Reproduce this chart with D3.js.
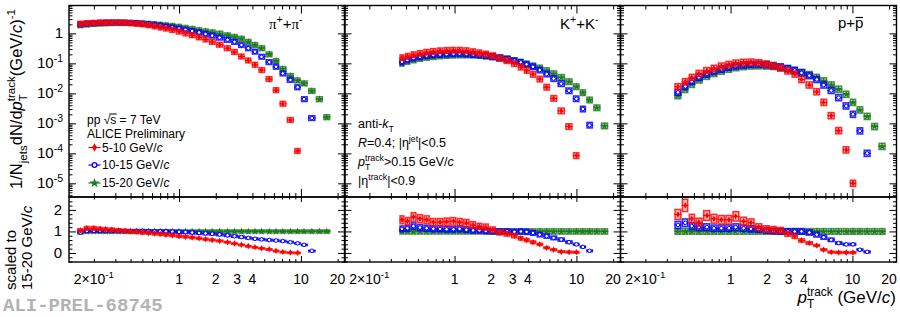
<!DOCTYPE html>
<html><head><meta charset="utf-8">
<script src="https://cdn.jsdelivr.net/npm/d3@7"></script>
<style>
body{margin:0;background:#fff;}
svg{display:block;font-family:"Liberation Sans",Arial,sans-serif;}
</style></head><body>
<svg id="c" width="900" height="317"></svg>
<script>
// ---------------- DATA ----------------
const SERIES = ["5-10 GeV/c", "10-15 GeV/c", "15-20 GeV/c"];
const X_TICK_LABELS = [0.2, 1, 2, 3, 4, 10, 20];
const Y_TOP_LABELS = [1, 1e-1, 1e-2, 1e-3, 1e-4, 1e-5];
const Y_BOT_LABELS = [0, 1, 2];

// pions
const PI_PT = [0.155, 0.175, 0.2, 0.225, 0.25, 0.28, 0.32, 0.36, 0.4, 0.45, 0.5, 0.56, 0.63, 0.7, 0.78, 0.88, 1.0, 1.13, 1.28, 1.46, 1.65, 1.87, 2.15, 2.5, 2.85, 3.25, 3.7, 4.2, 4.75, 5.5, 6.25, 7.1, 8.2, 9.4, 10.6, 12.3, 14.2, 16.3];
const PI_5_10 = [2.1, 2.2, 2.25, 2.3, 2.32, 2.32, 2.3, 2.27, 2.2, 2.1, 2.0, 1.88, 1.72, 1.58, 1.45, 1.3, 1.15, 1.0, 0.87, 0.74, 0.63, 0.52, 0.42, 0.32, 0.24, 0.17, 0.125, 0.09, 0.06, 0.03, 0.0128, 0.0045, 0.0013, 0.00012, null, null, null, null];
const PI_10_15 = [2.0, 2.1, 2.18, 2.24, 2.28, 2.3, 2.3, 2.28, 2.25, 2.2, 2.12, 2.03, 1.93, 1.82, 1.7, 1.58, 1.45, 1.32, 1.2, 1.08, 0.95, 0.84, 0.72, 0.61, 0.52, 0.41, 0.32, 0.245, 0.166, 0.11, 0.077, 0.046, 0.028, 0.016, 0.0064, 0.0015, null, null];
const PI_15_20 = [1.88, 1.98, 2.06, 2.12, 2.16, 2.2, 2.22, 2.22, 2.2, 2.17, 2.12, 2.07, 2.0, 1.93, 1.85, 1.76, 1.65, 1.52, 1.4, 1.27, 1.17, 1.08, 0.98, 0.86, 0.76, 0.66, 0.52, 0.41, 0.32, 0.2, 0.12, 0.065, 0.038, 0.027, 0.0215, 0.012, 0.0064, 0.0016];
const PI_R_5_10 = [1.05, 1.15, 1.15, 1.12, 1.1, 1.08, 1.05, 1.02, 1.0, 0.98, 0.95, 0.93, 0.9, 0.88, 0.85, 0.82, 0.78, 0.75, 0.72, 0.68, 0.64, 0.6, 0.56, 0.5, 0.44, 0.38, 0.32, 0.27, 0.22, 0.17, 0.1, 0.05, 0.02, 0.01, null, null, null, null];
const PI_R_10_15 = [0.95, 1.02, 1.03, 1.03, 1.02, 1.02, 1.02, 1.02, 1.02, 1.02, 1.02, 1.01, 1.0, 1.0, 1.0, 0.99, 0.98, 0.97, 0.95, 0.93, 0.91, 0.89, 0.86, 0.82, 0.78, 0.74, 0.7, 0.66, 0.63, 0.6, 0.58, 0.55, 0.5, 0.45, 0.38, 0.1, null, null];
const PI_R_15_20 = [1, 1, 1, 1, 1, 1, 1, 1, 1, 1, 1, 1, 1, 1, 1, 1, 1, 1, 1, 1, 1, 1, 1, 1, 1, 1, 1, 1, 1, 1, 1, 1, 1, 1, 1, 1, 1, 1];

// kaons
const K_PT = [0.37, 0.41, 0.46, 0.52, 0.59, 0.67, 0.76, 0.86, 0.98, 1.1, 1.25, 1.42, 1.6, 1.8, 2.05, 2.35, 2.7, 3.1, 3.5, 3.9, 4.4, 5.0, 5.7, 6.5, 7.5, 8.7, 10.0, 11.3, 12.8, 14.7, 17.0];
const K_5_10 = [0.155, 0.172, 0.195, 0.215, 0.235, 0.25, 0.262, 0.27, 0.275, 0.275, 0.265, 0.245, 0.225, 0.205, 0.18, 0.148, 0.123, 0.098, 0.075, 0.058, 0.043, 0.03, 0.016, 0.0068, 0.0026, 0.00078, 0.000084, null, null, null, null];
const K_10_15 = [0.112, 0.13, 0.15, 0.165, 0.18, 0.19, 0.198, 0.203, 0.207, 0.21, 0.205, 0.198, 0.19, 0.18, 0.167, 0.153, 0.14, 0.122, 0.108, 0.093, 0.077, 0.06, 0.044, 0.031, 0.021, 0.0122, 0.0066, 0.003, 0.00087, null, null];
const K_15_20 = [0.1, 0.115, 0.13, 0.145, 0.158, 0.168, 0.177, 0.183, 0.188, 0.19, 0.19, 0.188, 0.183, 0.175, 0.165, 0.152, 0.138, 0.123, 0.108, 0.095, 0.082, 0.07, 0.057, 0.045, 0.034, 0.0244, 0.0166, 0.0105, 0.006, 0.0033, 0.00082];
const K_R_5_10 = [1.54, 1.47, 1.67, 1.59, 1.54, 1.43, 1.43, 1.45, 1.47, 1.43, 1.39, 1.3, 1.23, 1.2, 1.08, 0.95, 0.89, 0.8, 0.68, 0.6, 0.5, 0.4, 0.24, 0.15, 0.06, 0.04, 0.03, null, null, null, null];
const K_R_10_15 = [1.12, 1.15, 1.25, 1.18, 1.15, 1.12, 1.12, 1.1, 1.1, 1.12, 1.08, 1.05, 1.05, 1.02, 1.0, 1.0, 1.0, 0.98, 1.0, 0.98, 0.93, 0.85, 0.78, 0.7, 0.62, 0.5, 0.4, 0.28, 0.1, null, null];
const K_R_15_20 = [1, 1, 1, 1, 1, 1, 1, 1, 1, 1, 1, 1, 1, 1, 1, 1, 1, 1, 1, 1, 1, 1, 1, 1, 1, 1, 1, 1, 1, 1, 1];

// protons
const PR_PT = [0.37, 0.425, 0.48, 0.55, 0.64, 0.73, 0.84, 0.97, 1.1, 1.28, 1.47, 1.7, 1.97, 2.25, 2.56, 2.96, 3.36, 3.82, 4.43, 5.1, 5.8, 6.7, 7.7, 8.9, 10.1, 11.5, 13.2, 15.2, 17.5];
const PR_5_10 = [0.0166, 0.0245, 0.034, 0.046, 0.057, 0.068, 0.081, 0.092, 0.102, 0.108, 0.11, 0.105, 0.095, 0.083, 0.07, 0.056, 0.044, 0.029, 0.019, 0.0113, 0.005, 0.0018, 0.00057, 0.00013, 0.00001, null, null, null, null];
const PR_10_15 = [0.0108, 0.017, 0.025, 0.034, 0.044, 0.054, 0.064, 0.074, 0.082, 0.088, 0.092, 0.093, 0.09, 0.084, 0.076, 0.067, 0.058, 0.048, 0.039, 0.029, 0.019, 0.0125, 0.0072, 0.0038, 0.002, 0.00056, 0.0001, null, null];
const PR_15_20 = [0.0084, 0.0135, 0.02, 0.028, 0.037, 0.046, 0.055, 0.064, 0.072, 0.078, 0.082, 0.083, 0.082, 0.079, 0.073, 0.066, 0.058, 0.05, 0.042, 0.034, 0.026, 0.019, 0.0137, 0.0093, 0.005, 0.0028, 0.0017, 0.00078, 0.00017];
const PR_R_5_10 = [1.79, 2.21, 1.59, 1.43, 1.74, 1.59, 1.54, 1.54, 1.7, 1.47, 1.4, 1.2, 1.12, 1.09, 1.05, 0.89, 0.78, 0.58, 0.46, 0.35, 0.15, 0.04, 0.02, 0.02, 0.02, null, null, null, null];
const PR_R_10_15 = [1.3, 1.4, 1.25, 1.2, 1.2, 1.15, 1.15, 1.15, 1.2, 1.15, 1.12, 1.1, 1.05, 1.02, 1.0, 1.0, 1.0, 1.0, 0.95, 0.85, 0.73, 0.61, 0.46, 0.4, 0.4, 0.15, 0.05, null, null];
const PR_R_15_20 = [1, 1, 1, 1, 1, 1, 1, 1, 1, 1, 1, 1, 1, 1, 1, 1, 1, 1, 1, 1, 1, 1, 1, 1, 1, 1, 1, 1, 1];

// ---------------- LAYOUT / STYLE ----------------
const COLORS = ["#ff0000", "#0000ff", "#1d7a1d"];
const PANEL_LEFT = [69, 344.5, 620.5], PW = 276;
const YT0 = 5.5, YT1 = 197, YB1 = 262;
const X_DOMAIN = [0.125, 23], YTOP_DOMAIN = [3.5e-6, 8.5], YBOT_DOMAIN = [-0.42, 2.6];
const PANELS = [
  {pt: PI_PT, top: [PI_5_10, PI_10_15, PI_15_20], rat: [PI_R_5_10, PI_R_10_15, PI_R_15_20], sysT: 0.2, sysR: 0.07},
  {pt: K_PT, top: [K_5_10, K_10_15, K_15_20], rat: [K_R_5_10, K_R_10_15, K_R_15_20], sysT: 0.24, sysR: 0.12},
  {pt: PR_PT, top: [PR_5_10, PR_10_15, PR_15_20], rat: [PR_R_5_10, PR_R_10_15, PR_R_15_20], sysT: 0.27, sysR: 0.13}
];

const svg = d3.select("#c");
const yTop = d3.scaleLog().domain(YTOP_DOMAIN).range([YT1, YT0]);
const yBot = d3.scaleLinear().domain(YBOT_DOMAIN).range([YB1, YT1]);

function logTicks(lo, hi) {
  const maj = [], min = [];
  for (let e = Math.floor(Math.log10(lo)); e <= Math.ceil(Math.log10(hi)); e++)
    for (let k = 1; k <= 9; k++) {
      const v = +(k * Math.pow(10, e)).toPrecision(6);
      if (v < lo || v > hi) continue;
      (k === 1 ? maj : min).push(v);
    }
  return {maj, min};
}
function tickAxis(axisFn, scale, values, size, transform) {
  svg.append("g").attr("transform", transform)
    .call(axisFn(scale).tickValues(values).tickSize(size).tickFormat(() => ""))
    .call(s => { s.select(".domain").remove(); s.selectAll("text").remove();
      s.selectAll("line").attr("stroke", "#000").attr("stroke-width", 1); });
}
function rich(sel, parts, base) {
  let shift = 0, prev = null;
  parts.forEach(p => {
    const ts = sel.append("tspan").text(p.t);
    let target = 0, fs = base;
    if (p.sub) { target = base * 0.32; fs = base * 0.7; }
    if (p.sup) { target = -base * 0.42; fs = base * 0.7; }
    ts.attr("font-size", fs).attr("dy", target - shift);
    shift = target;
    if (p.it) ts.attr("font-style", "italic");
    if (p.ff) ts.attr("font-family", p.ff);
    if (p.back && prev) ts.attr("dx", -prev.node().getComputedTextLength());
    prev = ts;
  });
  return sel;
}
const MARK = [
  g => g.append("path").attr("d", d3.symbol().type(d3.symbolDiamond).size(12)).attr("fill", COLORS[0]),
  g => g.append("circle").attr("r", 1.8).attr("fill", "#fff").attr("stroke", COLORS[1]).attr("stroke-width", 1),
  g => g.append("path").attr("d", d3.symbol().type(d3.symbolStar).size(18)).attr("fill", COLORS[2])
];

function drawPoints(g, pt, vals, x, y, si, sys, isLog) {
  const color = COLORS[si], n = pt.length, pts = [];
  for (let i = 0; i < n; i++) {
    if (vals[i] == null) continue;
    const lo = i > 0 ? Math.sqrt(pt[i - 1] * pt[i]) : pt[i] * pt[i] / Math.sqrt(pt[i] * pt[i + 1]);
    const hi = i < n - 1 ? Math.sqrt(pt[i] * pt[i + 1]) : pt[i] * pt[i] / Math.sqrt(pt[i - 1] * pt[i]);
    pts.push({p: pt[i], v: vals[i], lo, hi});
  }
  const yUp = d => isLog ? y(d.v * (1 + sys)) : y(d.v + sys * Math.max(d.v, 0.35));
  const yDn = d => isLog ? y(d.v / (1 + sys)) : y(d.v - sys * Math.max(d.v, 0.35));
  const gg = g.append("g");
  gg.selectAll("rect").data(pts).join("rect")
    .attr("x", d => x(d.lo) + 0.8).attr("width", d => Math.max(1, x(d.hi) - x(d.lo) - 1.6))
    .attr("y", yUp).attr("height", d => Math.max(1.5, yDn(d) - yUp(d)))
    .attr("fill", color).attr("fill-opacity", 0.28)
    .attr("stroke", color).attr("stroke-opacity", 0.8).attr("stroke-width", 1.5);
  gg.selectAll("line.h").data(pts).join("line").attr("class", "h")
    .attr("x1", d => x(d.lo)).attr("x2", d => x(d.hi)).attr("y1", d => y(d.v)).attr("y2", d => y(d.v))
    .attr("stroke", color).attr("stroke-width", 1);
  gg.selectAll("g.m").data(pts).join("g").attr("class", "m")
    .attr("transform", d => `translate(${x(d.p)},${y(d.v)})`)
    .each(function () { MARK[si](d3.select(this)); });
}

// ---------------- PANELS ----------------
const xt = logTicks(X_DOMAIN[0], X_DOMAIN[1]);
const yt = logTicks(YTOP_DOMAIN[0], YTOP_DOMAIN[1]);
const ybMaj = [0, 1, 2], ybMin = [-0.4, -0.2, 0.2, 0.4, 0.6, 0.8, 1.2, 1.4, 1.6, 1.8, 2.2, 2.4];

PANELS.forEach((P, pi) => {
  const L = PANEL_LEFT[pi];
  const x = d3.scaleLog().domain(X_DOMAIN).range([L, L + PW]);
  const cid = "clip" + pi;
  const defs = svg.append("defs");
  defs.append("clipPath").attr("id", cid + "t").append("rect").attr("x", L).attr("y", YT0).attr("width", PW).attr("height", YT1 - YT0);
  defs.append("clipPath").attr("id", cid + "b").append("rect").attr("x", L).attr("y", YT1).attr("width", PW).attr("height", YB1 - YT1);
  const gt = svg.append("g").attr("clip-path", `url(#${cid}t)`);
  const gb = svg.append("g").attr("clip-path", `url(#${cid}b)`);
  [2, 1, 0].forEach(si => {
    drawPoints(gt, P.pt, P.top[si], x, yTop, si, P.sysT, true);
    drawPoints(gb, P.pt, P.rat[si], x, yBot, si, P.sysR, false);
  });
  // ticks top panel
  tickAxis(d3.axisBottom, x, xt.maj, -8, `translate(0,${YT1})`);
  tickAxis(d3.axisBottom, x, xt.min, -4, `translate(0,${YT1})`);
  tickAxis(d3.axisTop, x, xt.maj, -8, `translate(0,${YT0})`);
  tickAxis(d3.axisTop, x, xt.min, -4, `translate(0,${YT0})`);
  tickAxis(d3.axisLeft, yTop, yt.maj, -7, `translate(${L},0)`);
  tickAxis(d3.axisLeft, yTop, yt.min, -3.5, `translate(${L},0)`);
  tickAxis(d3.axisRight, yTop, yt.maj, -7, `translate(${L + PW},0)`);
  tickAxis(d3.axisRight, yTop, yt.min, -3.5, `translate(${L + PW},0)`);
  // ticks bottom panel
  tickAxis(d3.axisBottom, x, xt.maj, -6, `translate(0,${YB1})`);
  tickAxis(d3.axisBottom, x, xt.min, -3, `translate(0,${YB1})`);
  tickAxis(d3.axisTop, x, xt.maj, -5, `translate(0,${YT1})`);
  tickAxis(d3.axisTop, x, xt.min, -2.5, `translate(0,${YT1})`);
  tickAxis(d3.axisLeft, yBot, ybMaj, -7, `translate(${L},0)`);
  tickAxis(d3.axisLeft, yBot, ybMin, -3.5, `translate(${L},0)`);
  tickAxis(d3.axisRight, yBot, ybMaj, -7, `translate(${L + PW},0)`);
  tickAxis(d3.axisRight, yBot, ybMin, -3.5, `translate(${L + PW},0)`);
  // frames
  svg.append("rect").attr("x", L).attr("y", YT0).attr("width", PW).attr("height", YT1 - YT0)
    .attr("fill", "none").attr("stroke", "#000").attr("stroke-width", 1.4);
  svg.append("rect").attr("x", L).attr("y", YT1).attr("width", PW).attr("height", YB1 - YT1)
    .attr("fill", "none").attr("stroke", "#000").attr("stroke-width", 1.4);
  // x tick labels
  X_TICK_LABELS.forEach(v => {
    const t = svg.append("text").attr("x", x(v)).attr("y", 284).attr("text-anchor", "middle").attr("font-size", 14);
    if (v === 0.2) rich(t, [{t: "2×10"}, {t: "-1", sup: true}], 14);
    else t.text(v);
  });
});

// y tick labels
Y_TOP_LABELS.forEach(v => {
  const t = svg.append("text").attr("x", 63).attr("y", yTop(v) + 5).attr("text-anchor", "end").attr("font-size", 15);
  if (v === 1) t.text("1");
  else rich(t, [{t: "10"}, {t: String(Math.round(Math.log10(v))), sup: true}], 15);
});
Y_BOT_LABELS.forEach(v => {
  svg.append("text").attr("x", 62).attr("y", yBot(v) + 5).attr("text-anchor", "end").attr("font-size", 15).text(v);
});

// axis titles
rich(svg.append("text").attr("transform", "translate(22,99) rotate(-90)").attr("text-anchor", "middle").attr("font-size", 16.5),
  [{t: "1/N"}, {t: "jets", sub: true}, {t: "dN/d"}, {t: "p", it: true}, {t: "T", sub: true}, {t: "track", sup: true, back: true}, {t: "(GeV/"}, {t: "c", it: true}, {t: ")"}, {t: "-1", sup: true}], 16.5);
svg.append("text").attr("transform", "translate(16,290) rotate(-90)").attr("font-size", 15).text("scaled to");
rich(svg.append("text").attr("transform", "translate(32,290) rotate(-90)").attr("font-size", 15),
  [{t: "15-20 GeV/"}, {t: "c", it: true}], 15);
rich(svg.append("text").attr("x", 896).attr("y", 303).attr("text-anchor", "end").attr("font-size", 17),
  [{t: "p", it: true}, {t: "T", sub: true}, {t: "track", sup: true, back: true}, {t: " (GeV/"}, {t: "c", it: true}, {t: ")"}], 17);

// panel labels
rich(svg.append("text").attr("x", 269).attr("y", 29).attr("font-size", 15),
  [{t: "π", ff: "Liberation Serif"}, {t: "+", sup: true}, {t: "+"}, {t: "π", ff: "Liberation Serif"}, {t: "-", sup: true}], 15);
rich(svg.append("text").attr("x", 560).attr("y", 29).attr("font-size", 15),
  [{t: "K"}, {t: "+", sup: true}, {t: "+"}, {t: "K"}, {t: "-", sup: true}], 15);
{
  const t = svg.append("text").attr("x", 838).attr("y", 28).attr("font-size", 15).text("p+p");
  const n = t.node(), a = n.getSubStringLength(0, 2), b = n.getSubStringLength(2, 1);
  svg.append("line").attr("x1", 838 + a + 0.5).attr("x2", 838 + a + b - 0.5).attr("y1", 17.5).attr("y2", 17.5)
    .attr("stroke", "#000").attr("stroke-width", 1.2);
}

// legend (panel 1)
const LFS = 12;
{
  const t = svg.append("text").attr("x", 87).attr("y", 124).attr("font-size", LFS).text("pp √s = 7 TeV");
  const n = t.node(), a = n.getSubStringLength(0, 4), b = n.getSubStringLength(4, 1);
  svg.append("line").attr("x1", 87 + a - 1).attr("x2", 87 + a + b + 0.5).attr("y1", 114).attr("y2", 114)
    .attr("stroke", "#000").attr("stroke-width", 1);
}
svg.append("text").attr("x", 87).attr("y", 137.5).attr("font-size", LFS).text("ALICE Preliminary");
const LEG_Y = [147.5, 165, 183];
SERIES.forEach((s, si) => {
  const y = LEG_Y[si];
  svg.append("line").attr("x1", 88.5).attr("x2", 100.5).attr("y1", y).attr("y2", y).attr("stroke", COLORS[si]).attr("stroke-width", 1.2);
  MARK[si](svg.append("g").attr("transform", `translate(94.5,${y}) scale(1.3)`));
  const parts = s.split("/");
  rich(svg.append("text").attr("x", 102).attr("y", y + 4).attr("font-size", LFS), [{t: parts[0] + "/"}, {t: "c", it: true}], LFS);
});

// cuts text (panel 2)
const TX = 358;
rich(svg.append("text").attr("x", TX).attr("y", 128).attr("font-size", 12.5), [{t: "anti-"}, {t: "k", it: true}, {t: "T", sub: true}], 12.5);
rich(svg.append("text").attr("x", TX).attr("y", 147).attr("font-size", 12.5), [{t: "R", it: true}, {t: "=0.4; |η"}, {t: "jet", sup: true}, {t: "|<0.5"}], 12.5);
rich(svg.append("text").attr("x", TX).attr("y", 166).attr("font-size", 12.5), [{t: "p", it: true}, {t: "T", sub: true}, {t: "track", sup: true, back: true}, {t: ">0.15 GeV/"}, {t: "c", it: true}], 12.5);
rich(svg.append("text").attr("x", TX).attr("y", 185).attr("font-size", 12.5), [{t: "|η"}, {t: "track", sup: true}, {t: "|<0.9"}], 12.5);

// watermark
svg.append("text").attr("x", 3).attr("y", 311).attr("font-family", "Liberation Mono").attr("font-weight", "bold")
  .attr("font-size", 19).attr("fill", "#b3b3b3").text("ALI-PREL-68745");
</script>
</body></html>
